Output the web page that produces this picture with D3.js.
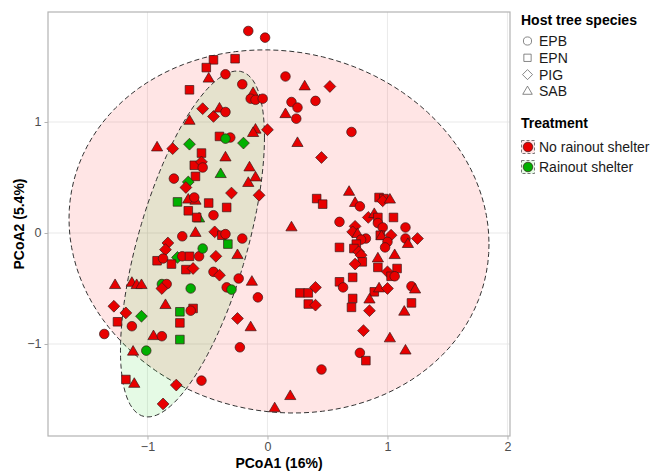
<!DOCTYPE html>
<html>
<head>
<meta charset="utf-8">
<script src="https://cdn.jsdelivr.net/npm/d3@7"></script>
<style>
body { margin: 0; background: #fff; }
text { font-family: "Liberation Sans", Arial, sans-serif; }
</style>
</head>
<body>
<div id="chart"></div>
<script>
// categories
var hostSpecies = ["EPB", "EPN", "PIG", "SAB"];
var treatments = ["No rainout shelter", "Rainout shelter"];
var xTicks = [-1, 0, 1, 2];
var yTicks = [-1, 0, 1];

// samples: PCoA1, PCoA2, host (index into hostSpecies), treatment (index into treatments)
var pc1 = [-0.16,-0.02,-0.45,-0.27,-0.51,-0.35,-0.49,-0.65,-0.21,0.15,0.31,0.52,-0.12,-0.14,-0.10,-0.04,0.20,0.25,0.40,0.24,
  0.15,-0.54,-0.45,-0.40,-0.35,-0.65,-0.10,-0.12,0.00,-0.40,-0.31,-0.35,-0.20,0.25,-0.92,-0.79,-0.65,0.70,-0.55,-0.35,
  0.45,-0.61,-0.55,-0.54,-0.39,-0.15,-0.10,-0.16,-0.60,-0.78,-0.66,-0.68,-0.30,-0.07,-0.66,-0.60,-0.61,-0.75,-0.49,-0.34,
  -0.66,-0.57,-0.59,-0.45,0.41,0.46,0.20,-0.71,-0.60,-0.44,-0.38,-0.35,-0.21,-0.33,-0.83,-0.85,-0.92,-0.87,-0.75,-0.71,
  -0.65,-0.57,-0.54,-0.43,-0.25,-0.80,-0.68,-0.62,-0.45,-0.40,-0.24,-0.13,-1.27,-1.13,-1.09,-1.05,-0.88,-0.84,-0.88,-0.64,
  -0.34,-0.30,-0.08,0.27,0.34,0.34,0.40,0.40,-1.28,-0.85,-0.73,-0.62,-0.64,-1.18,-1.05,-1.25,-1.13,-0.73,-0.25,-0.14,
  -1.36,-0.95,-0.88,-0.73,-0.23,-1.01,-1.12,0.45,-1.18,-1.11,-0.76,-0.55,-0.87,0.19,0.06,
  0.68,0.73,0.77,0.93,0.97,0.96,1.02,1.05,0.84,0.89,0.92,0.92,0.60,0.96,1.15,0.73,0.71,0.75,0.94,0.95,
  1.03,0.82,0.78,1.00,0.98,1.15,1.17,1.25,0.60,0.74,0.72,0.76,0.78,0.79,0.73,0.92,1.06,0.92,1.08,1.00,
  1.03,1.06,0.71,0.60,0.63,1.20,1.23,0.89,0.93,1.00,0.71,0.70,0.85,1.20,0.85,1.14,0.80,1.02,1.15,0.77,0.82];
var pc2 = [1.82,1.76,1.56,1.57,1.49,1.43,1.39,1.29,1.34,1.41,1.32,1.32,1.26,1.21,1.20,1.21,1.18,1.13,1.19,1.03,
  1.07,1.12,1.05,1.12,1.09,1.01,0.93,0.90,0.93,0.87,0.86,0.85,0.81,0.81,0.77,0.76,0.80,0.91,0.72,0.68,
  0.68,0.61,0.64,0.59,0.53,0.59,0.50,0.45,0.51,0.49,0.46,0.41,0.36,0.34,0.30,0.29,0.32,0.28,0.27,0.23,
  0.20,0.13,0.14,0.16,0.31,0.26,0.05,-0.03,0.00,0.01,-0.02,-0.01,-0.05,-0.10,-0.09,-0.15,-0.25,-0.23,-0.22,-0.21,
  -0.21,-0.21,-0.14,-0.21,-0.20,-0.28,-0.33,-0.32,-0.35,-0.38,-0.41,-0.44,-0.47,-0.45,-0.47,-0.47,-0.46,-0.46,-0.50,-0.50,
  -0.49,-0.51,-0.58,-0.54,-0.54,-0.64,-0.49,-0.65,-0.66,-0.65,-0.71,-0.68,-0.70,-0.72,-0.75,-0.80,-0.84,-0.81,-0.77,-0.85,
  -0.91,-0.93,-0.93,-0.96,-1.03,-1.06,-1.07,-1.23,-1.32,-1.36,-1.37,-1.33,-1.54,-1.47,-1.58,
  0.37,0.27,0.24,0.32,0.31,0.29,0.30,0.14,0.14,0.17,0.14,0.09,0.10,0.05,0.05,0.06,0.01,-0.01,-0.02,-0.03,
  -0.02,-0.05,-0.06,-0.08,-0.13,-0.05,-0.10,-0.05,-0.13,-0.10,-0.14,-0.17,-0.20,-0.26,-0.28,-0.23,-0.20,-0.31,-0.32,-0.35,
  -0.39,-0.39,-0.40,-0.44,-0.49,-0.48,-0.51,-0.53,-0.50,-0.50,-0.59,-0.67,-0.60,-0.63,-0.70,-0.71,-0.88,-0.95,-1.06,-1.08,-1.15];
var host = [0,0,1,1,1,0,3,1,0,0,3,2,3,0,0,0,0,0,0,0,
  3,2,2,3,0,3,3,3,2,1,0,0,2,3,3,2,2,0,1,3,
  2,1,2,0,3,3,3,3,1,0,2,2,2,2,3,3,0,1,1,1,
  1,3,1,0,1,1,3,0,3,2,1,0,0,1,2,2,1,0,2,0,
  1,0,0,2,3,1,1,2,0,2,0,3,3,3,3,3,0,0,2,0,
  0,0,0,1,1,1,2,2,2,3,1,1,0,2,2,1,0,1,2,3,
  0,3,0,1,0,0,3,0,1,3,2,0,2,3,3,
  3,3,0,1,1,2,3,1,2,3,1,0,0,0,0,2,2,3,1,3,
  2,0,0,0,0,0,3,2,1,1,1,2,2,1,2,3,3,1,1,2,
  1,0,1,1,0,0,3,1,3,2,1,1,3,1,2,3,2,3,3,0,1];
var shelter = [0,0,0,0,0,0,0,0,0,0,0,0,0,0,0,0,0,0,0,0,
  0,0,0,0,0,0,0,0,0,0,0,1,1,0,0,0,1,0,0,0,
  0,0,0,0,1,0,0,0,0,0,1,0,0,0,0,0,0,1,0,0,
  0,1,0,0,0,0,0,0,0,0,0,0,0,1,0,0,0,0,1,0,
  0,0,1,0,0,0,0,0,0,0,0,0,0,0,0,0,1,0,0,1,
  0,1,0,0,0,0,0,0,0,0,1,0,0,0,1,0,0,0,0,0,
  0,0,0,1,0,1,0,0,0,0,0,0,0,0,0,
  0,0,0,0,0,0,0,0,0,0,0,0,0,0,0,0,0,0,0,0,
  0,0,0,0,0,0,0,0,0,0,0,0,0,0,0,0,0,0,0,0,
  0,0,0,0,0,0,0,0,0,0,0,0,0,0,0,0,0,0,0,0,0];

// 95% ellipses per treatment: centre and two conjugate semi-axes (data units)
var ellipseCentre = [[0.096, 0.014], [-0.625, -0.099]];
var ellipseAxisA = [[1.75, -0.113], [0.60, 0.963]];
var ellipseAxisB = [[0, -1.632], [0, -1.225]];

var fillColors = ["#e80000", "#00b000"];
var areaColors = ["rgba(255,0,0,0.1)", "rgba(0,205,0,0.1)"];

var width = 651, height = 472;
var margin = {left: 48, right: 141, top: 12, bottom: 36};

var svg = d3.select("#chart")
.append("svg")
.attr("width", width)
.attr("height", height);

var xScale = d3.scaleLinear()
.domain([-1.829, 2.021])
.range([margin.left, width - margin.right]);

var yScale = d3.scaleLinear()
.domain([-1.829, 1.991])
.range([height - margin.bottom, margin.top]);

var panelW = width - margin.right - margin.left,
panelH = height - margin.bottom - margin.top;

// grid
svg.append("g").selectAll("line.gx")
.data(xTicks)
.enter()
.append("line")
.attr("x1", function(d) { return xScale(d); })
.attr("x2", function(d) { return xScale(d); })
.attr("y1", margin.top)
.attr("y2", height - margin.bottom)
.attr("stroke", "#e4e4e4")
.attr("stroke-width", 0.8);

svg.append("g").selectAll("line.gy")
.data(yTicks)
.enter()
.append("line")
.attr("y1", function(d) { return yScale(d); })
.attr("y2", function(d) { return yScale(d); })
.attr("x1", margin.left)
.attr("x2", width - margin.right)
.attr("stroke", "#e4e4e4")
.attr("stroke-width", 0.8);

// ellipses
var ellipseLine = d3.line()
.x(function(d) { return xScale(d[0]); })
.y(function(d) { return yScale(d[1]); })
.curve(d3.curveLinearClosed);

function ellipsePoints(i) {
	var pts = [];
	for (var k = 0; k < 120; k++) {
		var t = 2 * Math.PI * k / 120;
		pts.push([
			ellipseCentre[i][0] + ellipseAxisA[i][0] * Math.cos(t) + ellipseAxisB[i][0] * Math.sin(t),
			ellipseCentre[i][1] + ellipseAxisA[i][1] * Math.cos(t) + ellipseAxisB[i][1] * Math.sin(t)
		]);
	}
	return pts;
}

svg.append("g").selectAll("path")
.data([0, 1])
.enter()
.append("path")
.attr("d", function(i) { return ellipseLine(ellipsePoints(i)); })
.attr("fill", function(i) { return areaColors[i]; })
.attr("stroke", "#333")
.attr("stroke-width", 1)
.attr("stroke-dasharray", "5,3");

// shapes: circle, square, diamond, triangle (like ggplot 21-24)
function shapePath(h, s) {
	if (h == 0) return d3.symbol(d3.symbolCircle, 72 * s * s)();
	if (h == 1) { var a = 4.3 * s; return "M" + (-a) + "," + (-a) + "H" + a + "V" + a + "H" + (-a) + "Z"; }
	if (h == 2) { var b = 5.9 * s; return "M0," + (-b) + "L" + b + ",0L0," + b + "L" + (-b) + ",0Z"; }
	var w = 5.6 * s;
	return "M0," + (-6.2 * s) + "L" + w + "," + (3.4 * s) + "L" + (-w) + "," + (3.4 * s) + "Z";
}

var samples = d3.range(pc1.length);

svg.append("g").selectAll("path")
.data(samples)
.enter()
.append("path")
.attr("d", function(i) { return shapePath(host[i], 1); })
.attr("transform", function(i) { return "translate(" + xScale(pc1[i]) + "," + yScale(pc2[i]) + ")"; })
.attr("fill", function(i) { return fillColors[shelter[i]]; })
.attr("stroke", "#3a1a1a")
.attr("stroke-width", 0.7);

// panel border
svg.append("rect")
.attr("x", margin.left)
.attr("y", margin.top)
.attr("width", panelW)
.attr("height", panelH)
.attr("fill", "none")
.attr("stroke", "#b3b3b3")
.attr("stroke-width", 1.2);

// axes
var xAxis = svg.append("g")
.attr("transform", "translate(0," + (height - margin.bottom) + ")")
.call(d3.axisBottom(xScale).tickValues(xTicks).tickSize(3.5).tickPadding(3)
	.tickFormat(function(d) { return d < 0 ? "\u2212" + Math.abs(d) : d; }));

var yAxis = svg.append("g")
.attr("transform", "translate(" + margin.left + ",0)")
.call(d3.axisLeft(yScale).tickValues(yTicks).tickSize(3.5).tickPadding(3)
	.tickFormat(function(d) { return d < 0 ? "\u2212" + Math.abs(d) : d; }));

[xAxis, yAxis].forEach(function(ax) {
	ax.select(".domain").remove();
	ax.selectAll(".tick line").attr("stroke", "#b3b3b3");
	ax.selectAll(".tick text")
	.attr("fill", "#4d4d4d")
	.attr("font-size", "12.5px")
	.attr("font-family", "Liberation Sans, Arial, sans-serif");
});

svg.append("text")
.text("PCoA1 (16%)")
.attr("x", (margin.left + width - margin.right) / 2)
.attr("y", 468)
.attr("text-anchor", "middle")
.attr("font-size", "14px")
.attr("font-weight", "bold");

svg.append("text")
.text("PCoA2 (5.4%)")
.attr("transform", "translate(24," + (margin.top + panelH / 2) + ") rotate(-90)")
.attr("text-anchor", "middle")
.attr("font-size", "14px")
.attr("font-weight", "bold");

// legend: host tree species
var legX = 521;

svg.append("text")
.text("Host tree species")
.attr("x", legX)
.attr("y", 25)
.attr("font-size", "14px")
.attr("font-weight", "bold");

var hostItems = svg.append("g").selectAll("g")
.data(hostSpecies)
.enter()
.append("g")
.attr("transform", function(d, i) { return "translate(" + legX + "," + (41 + i * 16.8) + ")"; });

hostItems.append("path")
.attr("d", function(d, i) { return shapePath(i, 0.85); })
.attr("transform", "translate(6.5,0)")
.attr("fill", "none")
.attr("stroke", "#555")
.attr("stroke-width", 0.7);

hostItems.append("text")
.text(function(d) { return d; })
.attr("x", 18)
.attr("y", 5)
.attr("font-size", "14px")
.attr("fill", "#1a1a1a");

// legend: treatment
svg.append("text")
.text("Treatment")
.attr("x", legX)
.attr("y", 128)
.attr("font-size", "14px")
.attr("font-weight", "bold");

var treatItems = svg.append("g").selectAll("g")
.data(treatments)
.enter()
.append("g")
.attr("transform", function(d, i) { return "translate(" + legX + "," + (147 + i * 20) + ")"; });

treatItems.append("rect")
.attr("x", 0.5)
.attr("y", -6.5)
.attr("width", 13)
.attr("height", 13)
.attr("fill", function(d, i) { return areaColors[i]; })
.attr("stroke", "#555")
.attr("stroke-width", 0.8)
.attr("stroke-dasharray", "3,2");

treatItems.append("path")
.attr("d", shapePath(0, 1))
.attr("transform", "translate(7,0)")
.attr("fill", function(d, i) { return fillColors[i]; })
.attr("stroke", "#3a1a1a")
.attr("stroke-width", 0.7);

treatItems.append("text")
.text(function(d) { return d; })
.attr("x", 18)
.attr("y", 5)
.attr("font-size", "14px")
.attr("fill", "#1a1a1a");
</script>
</body>
</html>
